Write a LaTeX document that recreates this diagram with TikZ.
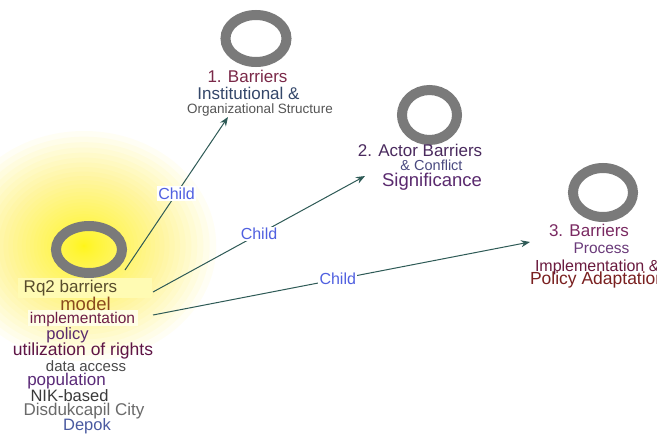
\documentclass[tikz,border=0pt]{standalone}
\usepackage{fontspec}
\setmainfont{Liberation Sans}
\usetikzlibrary{arrows.meta}

\definecolor{ringgrey}{RGB}{122,122,122}
\definecolor{linkcol}{RGB}{46,90,86}
\definecolor{childcol}{RGB}{80,96,224}
\definecolor{glowcol}{RGB}{255,245,0}
\definecolor{cRq}{RGB}{88,76,44}
\definecolor{cModel}{RGB}{138,74,30}
\definecolor{cImpl}{RGB}{110,30,70}
\definecolor{cPolicy}{RGB}{90,42,110}
\definecolor{cUtil}{RGB}{94,20,69}
\definecolor{cData}{RGB}{74,74,74}
\definecolor{cPop}{RGB}{90,42,120}
\definecolor{cNik}{RGB}{58,58,58}
\definecolor{cDis}{RGB}{106,106,106}
\definecolor{cDepok}{RGB}{74,90,160}
\definecolor{cBone}{RGB}{122,40,72}
\definecolor{cInst}{RGB}{52,71,106}
\definecolor{cOrg}{RGB}{85,85,85}
\definecolor{cActor}{RGB}{74,42,94}
\definecolor{cConf}{RGB}{74,74,128}
\definecolor{cSig}{RGB}{90,42,110}
\definecolor{cBthree}{RGB}{122,42,98}
\definecolor{cProc}{RGB}{106,58,122}
\definecolor{cImplAmp}{RGB}{106,26,62}
\definecolor{cPolAd}{RGB}{122,32,32}

\tikzset{
  ring/.style={draw=ringgrey, line width=10pt},
  lbl/.style={inner sep=0pt, outer sep=0pt, anchor=center},
  fs/.style={font=\fontsize{#1}{#1}\selectfont},
  link/.style={draw=linkcol, line width=1pt, -{Stealth[length=9pt,width=7pt]}},
  childlbl/.style={fill=white, inner sep=1.5pt, text=childcol, font=\fontsize{16}{16}\selectfont},
  glowlayer/.style={fill=glowcol, fill opacity=0.045}
}

\begin{document}
\begin{tikzpicture}[x=1pt,y=-1pt]
\useasboundingbox (0,0) rectangle (657,434);
\clip (0,0) rectangle (657,434);
\fill[white] (0,0) rectangle (657,434);

% soft glow round the central concept, built from stacked translucent discs
\foreach \k in {50,49,...,1}
  \fill[glowlayer] (84,246) ellipse [x radius={1.15*115*(\k/50)^2.5}, y radius={115*(\k/50)^2.5}];
\fill[yellow!30] (18,278) rectangle (152,298);
\fill[yellow!10] (28,310) rectangle (138,326);

% rings
\draw[ring] (89,249.5) ellipse [x radius=33, y radius=23.5];
\draw[ring] (256,38.5) ellipse [x radius=30.5, y radius=23.5];
\draw[ring] (429.5,115) ellipse [x radius=27.5, y radius=25];
\draw[ring] (603,192.5) ellipse [x radius=30, y radius=24.5];

% central concept labels
\node[lbl, fs=17,   text=cRq]     (rq)    at (70.5,288) {Rq2 barriers};
\node[lbl, fs=18.5, text=cModel]  (model) at (85.5,304) {model};
\node[lbl, fs=15.5, text=cImpl]   (impl)  at (82.5,319) {implementation};
\node[lbl, fs=16.5, text=cPolicy] (pol)   at (67.5,335) {policy};
\node[lbl, fs=17.5, text=cUtil]   (util)  at (83,351)   {utilization of rights};
\node[lbl, fs=15,   text=cData]   (data)  at (86,366)   {data access};
\node[lbl, fs=17,   text=cPop]    (pop)   at (66.5,381) {population};
\node[lbl, fs=16.5, text=cNik]    (nik)   at (69.5,396) {NIK-based};
\node[lbl, fs=17,   text=cDis]    (dis)   at (84,411.5) {Disdukcapil City};
\node[lbl, fs=16.5, text=cDepok]  (depok) at (87,426.5) {Depok};

% concept 1
\node[lbl, fs=17,   text=cBone] (b1)  at (247.5,76)  {1. Barriers};
\node[lbl, fs=17,   text=cInst] (b1a) at (248.5,93)  {Institutional \&};
\node[lbl, fs=13.5, text=cOrg]  (b1b) at (260,110)   {Organizational Structure};

% concept 2
\node[lbl, fs=17,   text=cActor] (b2)  at (420,150) {2. Actor Barriers};
\node[lbl, fs=14.5, text=cConf]  (b2a) at (431.5,165) {\& Conflict};
\node[lbl, fs=18.5, text=cSig]   (b2b) at (432,182) {Significance};

% concept 3
\node[lbl, fs=17,   text=cBthree]  (b3)  at (589,230) {3. Barriers};
\node[lbl, fs=15.5, text=cProc]    (b3a) at (601.5,248) {Process};
\node[lbl, fs=16,   text=cImplAmp, anchor=west] (b3b) at (535,267) {Implementation \&};
\node[lbl, fs=17.5, text=cPolAd,   anchor=west] (b3c) at (530,280) {Policy Adaptation};

% connector ends
\coordinate (s1) at (125,270);
\coordinate (e1) at (228,117);
\coordinate (s2) at (153,292);
\coordinate (e2) at (365,176);
\coordinate (s3) at (153,315);
\coordinate (e3) at (530,242);

\draw[link] (s1) -- node[childlbl, pos=0.5] {Child} (e1);
\draw[link] (s2) -- node[childlbl, pos=0.5] {Child} (e2);
\draw[link] (s3) -- node[childlbl, pos=0.49] {Child} (e3);
\end{tikzpicture}
\end{document}
